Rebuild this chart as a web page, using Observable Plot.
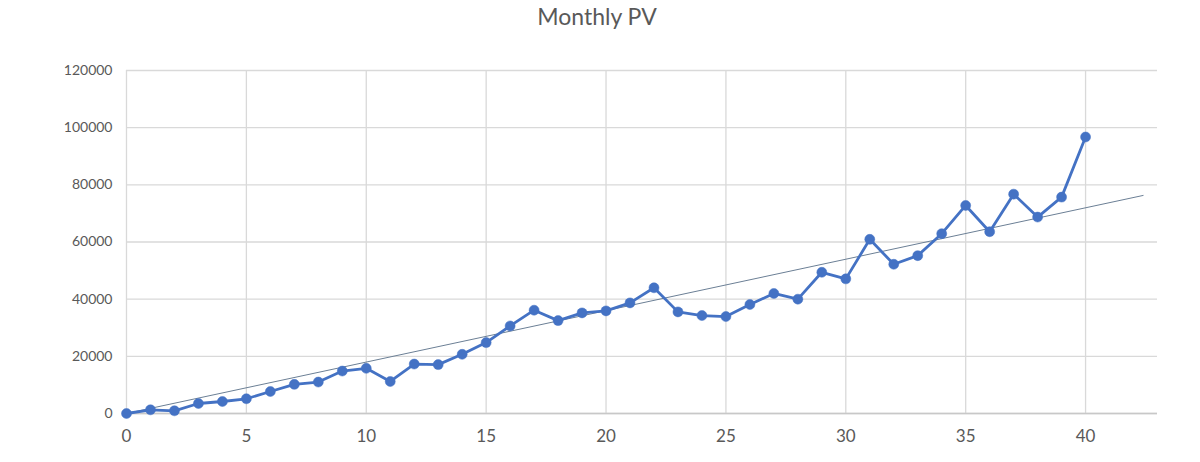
<!DOCTYPE html>
<html>
<head>
<meta charset="utf-8">
<script src="https://cdn.jsdelivr.net/npm/d3@7"></script>
<script src="https://cdn.jsdelivr.net/npm/@observablehq/plot@0.6"></script>
<style>
  html, body { margin: 0; padding: 0; background: #fff; }
  #title { width: 1194px; padding-right: 6px; height: 40px; line-height: 32px; text-align: center; font-family: Lato, "Open Sans", sans-serif; font-size: 23px; color: #595959; }
  #chart svg { display: block; }
</style>
</head>
<body>
<div id="title">Monthly PV</div>
<div id="chart"></div>
<script>
const months = [0,1,2,3,4,5,6,7,8,9,10,11,12,13,14,15,16,17,18,19,20,21,22,23,24,25,26,27,28,29,30,31,32,33,34,35,36,37,38,39,40];
const pv = [0,1290,940,3500,4200,5150,7700,10200,11000,14850,15800,11200,17300,17100,20700,24800,30640,36140,32500,35200,35900,38700,43980,35550,34270,33920,38130,41990,40000,49400,47100,60930,52210,55230,62910,72790,63600,76740,68720,75700,96740];
const xTicks = [0,5,10,15,20,25,30,35,40];
const yTicks = [0,20000,40000,60000,80000,100000,120000];
const xMax = 43;
const trendForward = 2.4;

const data = months.map((m, i) => ({month: m, pv: pv[i]}));

// linear least-squares trendline with intercept fixed at 0
const slope = d3.sum(data, d => d.month * d.pv) / d3.sum(data, d => d.month * d.month);
const tx0 = d3.min(months), tx1 = d3.max(months) + trendForward;
const trend = [tx0, tx1].map(x => ({month: x, pv: slope * x}));

const grid = "#d9d9d9";
const blue = "#4472C4";

const chart = Plot.plot({
  width: 1200,
  height: 422,
  marginTop: 30,
  marginBottom: 49,
  marginLeft: 126,
  marginRight: 43,
  style: {fontFamily: "Lato, 'Open Sans', sans-serif", color: "#595959", background: "#fff"},
  x: {domain: [0, xMax], ticks: xTicks},
  y: {domain: [0, 120000], ticks: yTicks},
  marks: [
    Plot.gridX(xTicks, {stroke: grid, strokeOpacity: 1, strokeWidth: 1.3}),
    Plot.gridY(yTicks, {stroke: grid, strokeOpacity: 1, strokeWidth: 1.3}),
    Plot.ruleY([0], {stroke: "#c8c8c8", strokeWidth: 1.5}),
    Plot.axisX(xTicks, {tickSize: 0, tickPadding: 16, fontSize: 17, fill: "#595959", label: null, tickFormat: d => String(d)}),
    Plot.axisY(yTicks, {tickSize: 0, tickPadding: 14, fontSize: 14, fill: "#595959", label: null, tickFormat: d => String(d)}),
    Plot.line(trend, {x: "month", y: "pv", stroke: "#6b7f95", strokeWidth: 1}),
    Plot.line(data, {x: "month", y: "pv", stroke: blue, strokeWidth: 2.8}),
    Plot.dot(data, {x: "month", y: "pv", r: 5, fill: blue, stroke: blue, strokeWidth: 0.5})
  ]
});
document.getElementById("chart").appendChild(chart);
</script>
</body>
</html>
